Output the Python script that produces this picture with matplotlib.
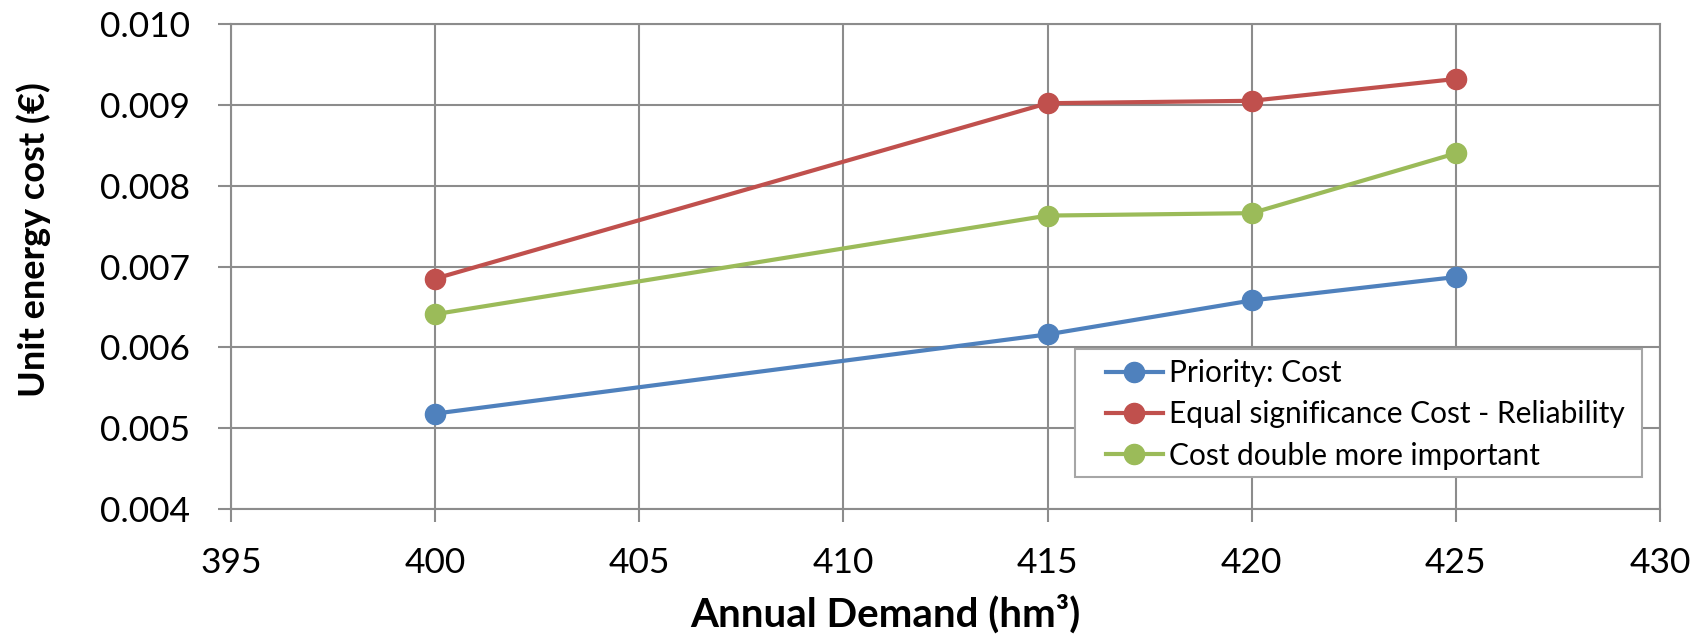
import matplotlib
matplotlib.use("Agg")
import matplotlib.pyplot as plt
from matplotlib.patches import Rectangle
from matplotlib.ticker import FormatStrFormatter, MultipleLocator

# Annual demand (hm³) and unit energy cost (€) for each weighting scenario
demand = [400, 415, 420, 425]
priority_cost = [0.00518, 0.00616, 0.00658, 0.00687]
equal_significance = [0.00685, 0.00902, 0.00905, 0.00932]
cost_double = [0.00641, 0.00763, 0.00766, 0.00840]

series_labels = [
    "Priority: Cost",
    "Equal significance Cost - Reliability",
    "Cost double more important",
]
series_colors = ["#4F81BD", "#C0504D", "#9BBB59"]

plt.rcParams["font.family"] = ["Lato", "DejaVu Sans"]

W, H = 1707, 634
fig = plt.figure(figsize=(W / 100, H / 100), dpi=100)
ax = fig.add_axes([231 / W, 1 - 509 / H, (1660 - 231) / W, (509 - 24) / H])

for vals, lab, col in zip([priority_cost, equal_significance, cost_double],
                          series_labels, series_colors):
    ax.plot(demand, vals, color=col, lw=3, marker="o", markersize=14.5,
            label=lab, zorder=3)

ax.set_xlim(395, 430)
ax.set_ylim(0.004, 0.010)
ax.xaxis.set_major_locator(MultipleLocator(5))
ax.yaxis.set_major_locator(MultipleLocator(0.001))
ax.yaxis.set_major_formatter(FormatStrFormatter("%.3f"))

grid_col = "#8C8C8C"
ax.grid(True, color=grid_col, lw=1.5, zorder=0)
for sp in ax.spines.values():
    sp.set_color(grid_col)
    sp.set_linewidth(1.5)
ax.tick_params(axis="both", direction="out", length=9.5, width=1.5,
               color=grid_col, labelsize=25.5)
ax.tick_params(axis="x", pad=18)
ax.tick_params(axis="y", pad=20)

# Axis titles
fig.text(885 / W, 1 - 614 / H, "Annual Demand (hm³)", fontsize=29,
         fontweight="bold", ha="center", va="center")
fig.text(34 / W, 1 - 240 / H, "Unit energy cost (€)", fontsize=26,
         fontweight="bold", ha="center", va="center", rotation=90)

# Legend box drawn as a plain rectangle, entries placed inside it
box = Rectangle((1075 / W, 1 - 477 / H), (1642 - 1075) / W, (477 - 349) / H,
                transform=fig.transFigure, facecolor="white",
                edgecolor="#A6A6A6", lw=1.5, zorder=4, clip_on=False)
ax.add_patch(box)
leg = ax.legend(loc="upper left", bbox_to_anchor=(1106 / W, 1 - 359 / H),
                bbox_transform=fig.transFigure, fontsize=21.5, frameon=False,
                handlelength=1.9, handletextpad=0.2, borderpad=0,
                labelspacing=0.45, borderaxespad=0)
leg.set_zorder(5)

fig.savefig("out.png", dpi=100, facecolor="white")
